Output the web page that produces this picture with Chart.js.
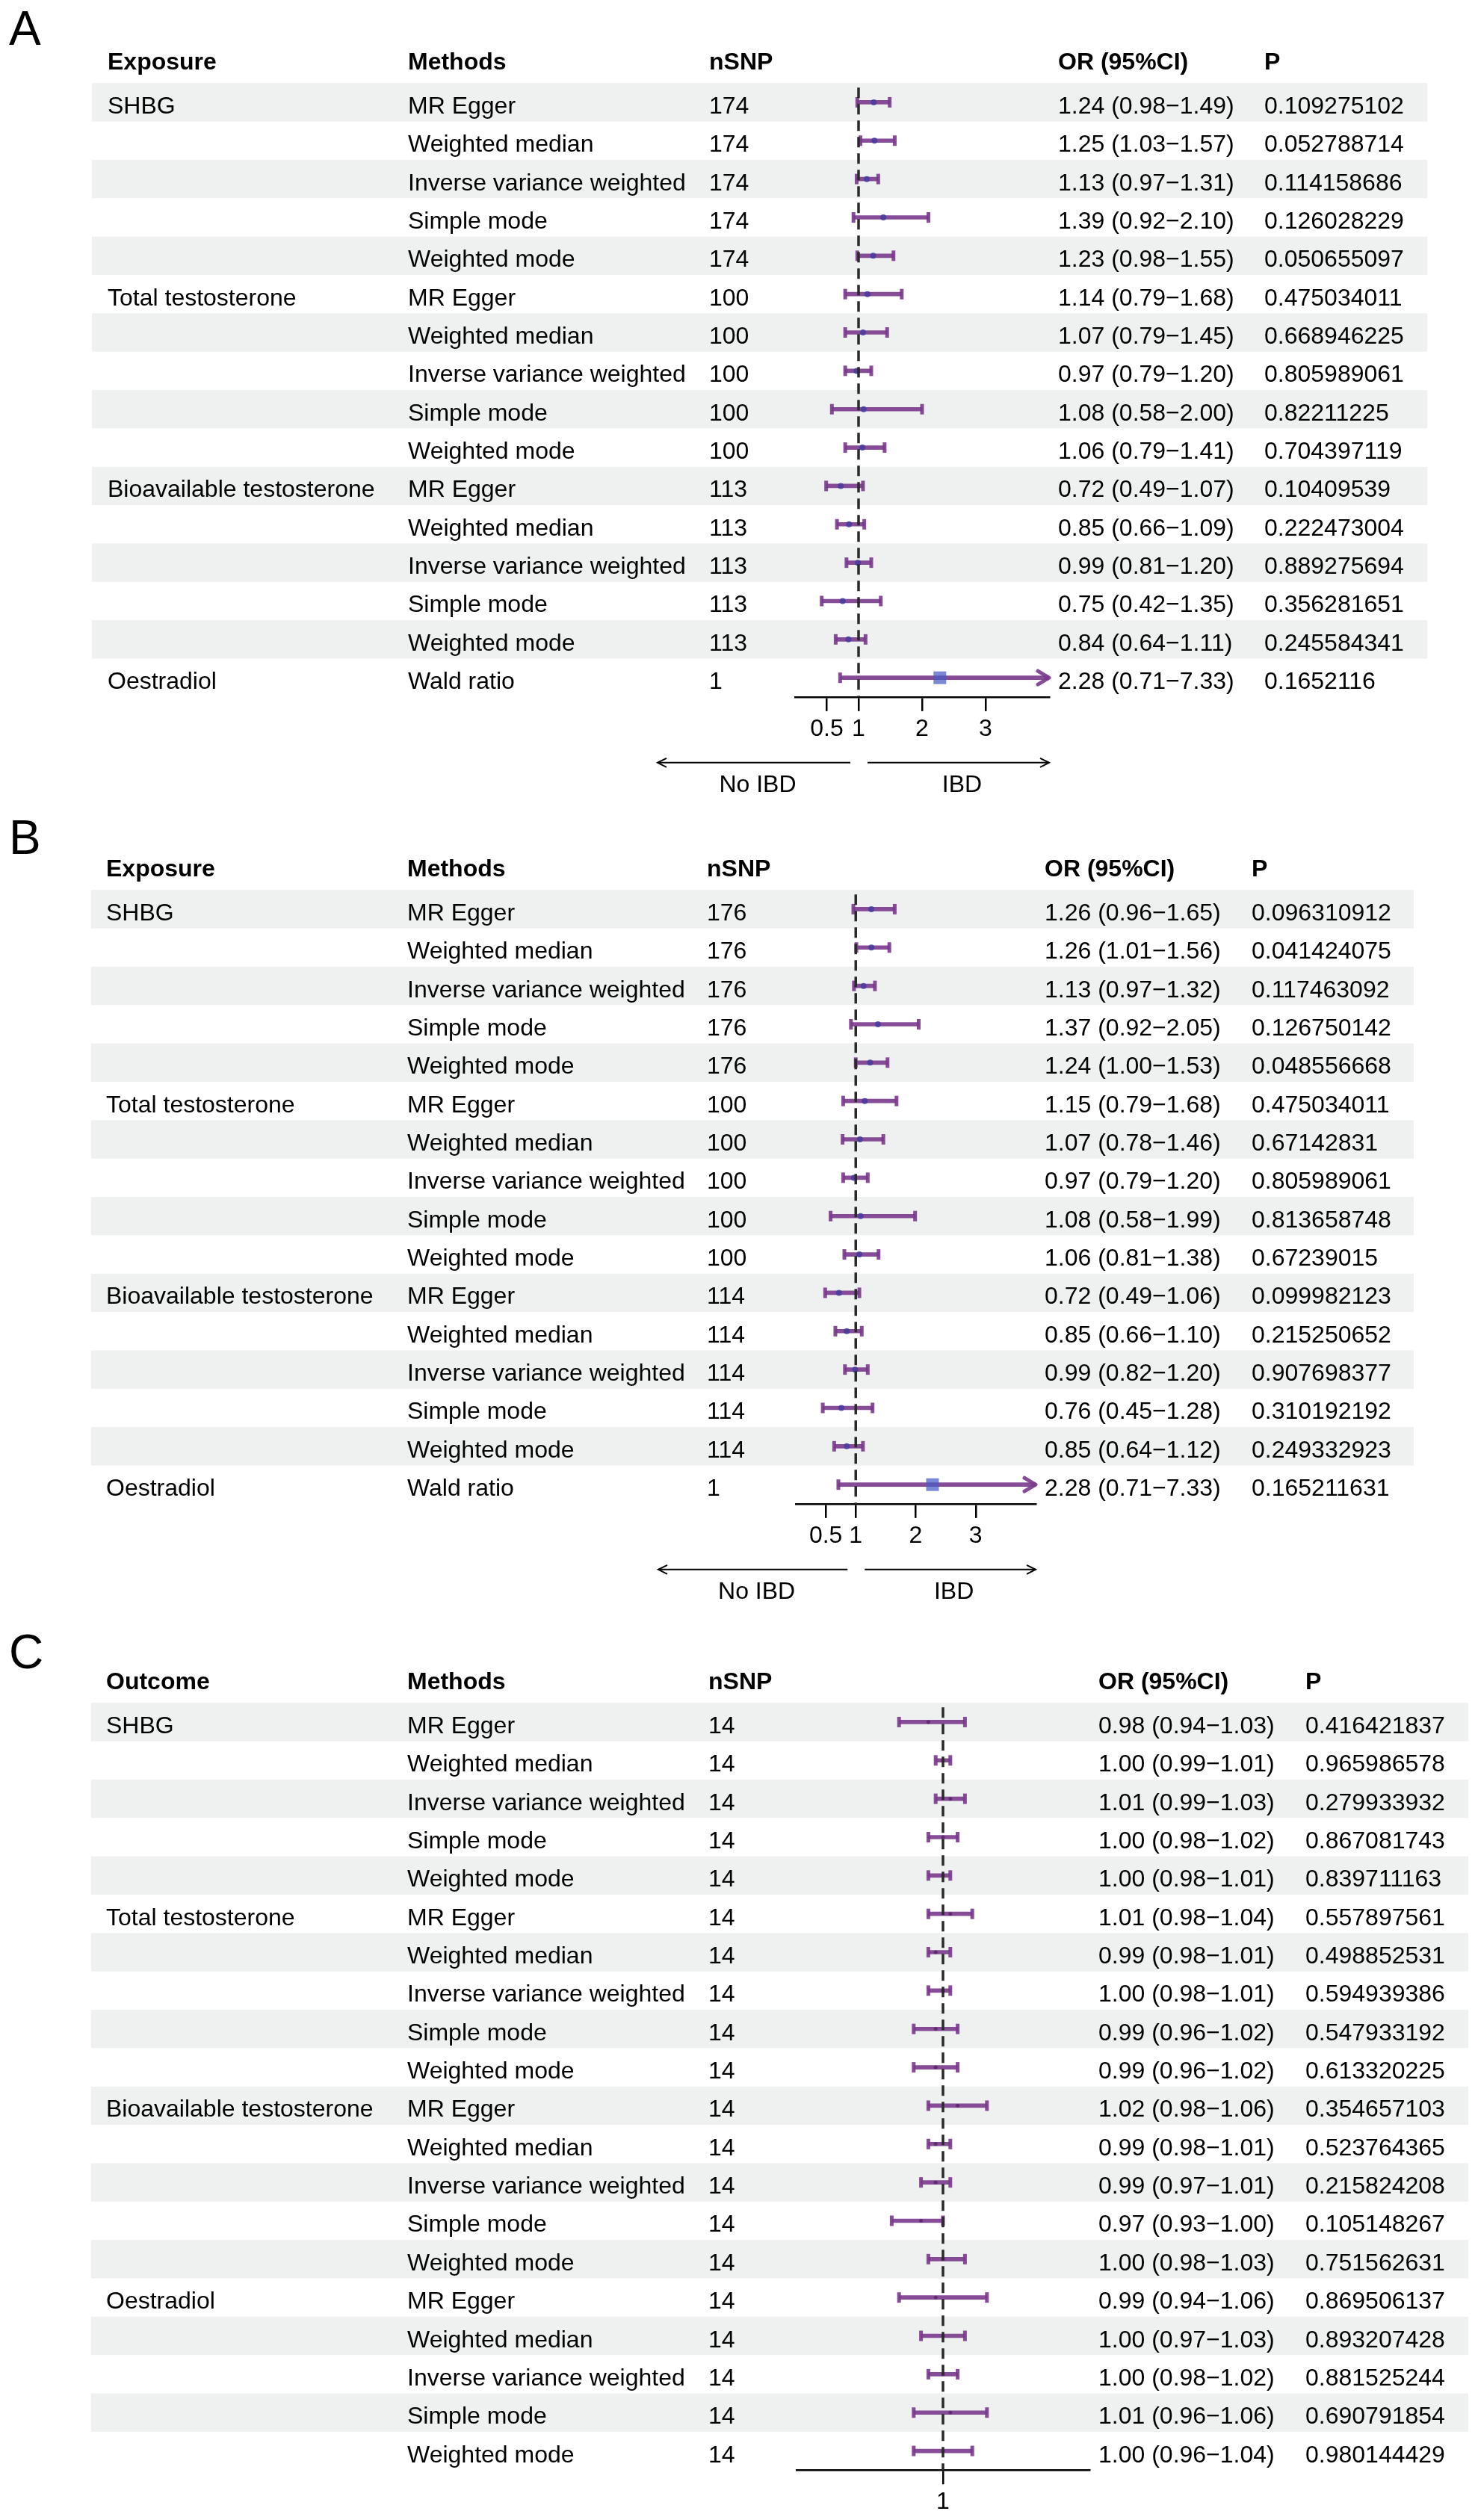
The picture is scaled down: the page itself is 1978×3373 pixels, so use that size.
<!DOCTYPE html>
<html lang="en">
<head>
<meta charset="UTF-8">
<title>MR forest plots</title>
<script src="https://cdn.jsdelivr.net/npm/chart.js"></script>
<style>
  html, body { margin: 0; padding: 0; background: #fff; }
  body { width: 1978px; height: 3373px; position: relative; overflow: hidden; }
  canvas { position: absolute; left: 0; }
</style>
</head>
<body>
<canvas id="chartA" width="1978" height="1068" style="top:0px"></canvas>
<canvas id="chartB" width="1978" height="1087" style="top:1068px"></canvas>
<canvas id="chartC" width="1978" height="1218" style="top:2155px"></canvas>
<script>
// ---- data ----
const exposures = ['SHBG', 'Total testosterone', 'Bioavailable testosterone', 'Oestradiol'];
const methods = ['MR Egger', 'Weighted median', 'Inverse variance weighted', 'Simple mode', 'Weighted mode'];
const singleSnpMethod = ['Wald ratio'];

// panel A
const nsnpA = [174, 174, 174, 174, 174, 100, 100, 100, 100, 100, 113, 113, 113, 113, 113, 1];
const orA = [1.24, 1.25, 1.13, 1.39, 1.23, 1.14, 1.07, 0.97, 1.08, 1.06, 0.72, 0.85, 0.99, 0.75, 0.84, 2.28];
const loA = [0.98, 1.03, 0.97, 0.92, 0.98, 0.79, 0.79, 0.79, 0.58, 0.79, 0.49, 0.66, 0.81, 0.42, 0.64, 0.71];
const hiA = [1.49, 1.57, 1.31, 2.10, 1.55, 1.68, 1.45, 1.20, 2.00, 1.41, 1.07, 1.09, 1.20, 1.35, 1.11, 7.33];
const pA = [0.109275102, 0.052788714, 0.114158686, 0.126028229, 0.050655097, 0.475034011, 0.668946225,
  0.805989061, 0.82211225, 0.704397119, 0.10409539, 0.222473004, 0.889275694, 0.356281651, 0.245584341, 0.1652116];

// panel B
const nsnpB = [176, 176, 176, 176, 176, 100, 100, 100, 100, 100, 114, 114, 114, 114, 114, 1];
const orB = [1.26, 1.26, 1.13, 1.37, 1.24, 1.15, 1.07, 0.97, 1.08, 1.06, 0.72, 0.85, 0.99, 0.76, 0.85, 2.28];
const loB = [0.96, 1.01, 0.97, 0.92, 1.00, 0.79, 0.78, 0.79, 0.58, 0.81, 0.49, 0.66, 0.82, 0.45, 0.64, 0.71];
const hiB = [1.65, 1.56, 1.32, 2.05, 1.53, 1.68, 1.46, 1.20, 1.99, 1.38, 1.06, 1.10, 1.20, 1.28, 1.12, 7.33];
const pB = [0.096310912, 0.041424075, 0.117463092, 0.126750142, 0.048556668, 0.475034011, 0.67142831,
  0.805989061, 0.813658748, 0.67239015, 0.099982123, 0.215250652, 0.907698377, 0.310192192, 0.249332923, 0.165211631];

// panel C
const nsnpC = [14, 14, 14, 14, 14, 14, 14, 14, 14, 14, 14, 14, 14, 14, 14, 14, 14, 14, 14, 14];
const orC = [0.98, 1.00, 1.01, 1.00, 1.00, 1.01, 0.99, 1.00, 0.99, 0.99, 1.02, 0.99, 0.99, 0.97, 1.00, 0.99, 1.00, 1.00, 1.01, 1.00];
const loC = [0.94, 0.99, 0.99, 0.98, 0.98, 0.98, 0.98, 0.98, 0.96, 0.96, 0.98, 0.98, 0.97, 0.93, 0.98, 0.94, 0.97, 0.98, 0.96, 0.96];
const hiC = [1.03, 1.01, 1.03, 1.02, 1.01, 1.04, 1.01, 1.01, 1.02, 1.02, 1.06, 1.01, 1.01, 1.00, 1.03, 1.06, 1.03, 1.02, 1.06, 1.04];
const pC = [0.416421837, 0.965986578, 0.279933932, 0.867081743, 0.839711163, 0.557897561, 0.498852531,
  0.594939386, 0.547933192, 0.613320225, 0.354657103, 0.523764365, 0.215824208, 0.105148267, 0.751562631,
  0.869506137, 0.893207428, 0.881525244, 0.690791854, 0.980144429];

const ticksAB = [0.5, 1, 2, 3];
const ticksC = [1];

// ---- helpers ----
const FONT = "'Liberation Sans', Arial, Helvetica, sans-serif";
const PURPLE = 'rgba(122,56,140,0.9)';
const BAND = '#eef1f0';

function buildRows(groupMethods) {
  const exp = [], meth = [];
  exposures.forEach((e, g) => {
    groupMethods[g].forEach((m, k) => {
      exp.push(k === 0 ? e : '');
      meth.push(m);
    });
  });
  return { exp, meth };
}

function chevron(ctx, x, y, dir, w, h) {
  ctx.beginPath();
  ctx.moveTo(x - dir * w, y - h);
  ctx.lineTo(x, y);
  ctx.lineTo(x - dir * w, y + h);
  ctx.stroke();
}

function makePlugin(cfg, rows) {
  return {
    id: 'forestTable',
    beforeDraw(chart) {
      const ctx = chart.ctx, ys = chart.scales.y;
      const rowH = ys.getPixelForValue(1) - ys.getPixelForValue(0);
      ctx.save();
      ctx.fillStyle = BAND;
      for (let i = 0; i < rows.meth.length; i += 2) {
        const y = ys.getPixelForValue(i);
        ctx.fillRect(cfg.bandL, y - rowH / 2, cfg.bandR - cfg.bandL, rowH);
      }
      ctx.restore();
    },
    afterDatasetsDraw(chart) {
      const ctx = chart.ctx, xs = chart.scales.x, ys = chart.scales.y, area = chart.chartArea;
      const x1 = xs.getPixelForValue(1);
      ctx.save();
      ctx.strokeStyle = '#2a2a2a';
      ctx.lineWidth = 3.5;
      ctx.setLineDash([14, 8]);
      ctx.beginPath();
      ctx.moveTo(x1, area.top + 6);
      ctx.lineTo(x1, area.bottom);
      ctx.stroke();
      ctx.setLineDash([]);
      // arrow heads for intervals running past the axis
      ctx.strokeStyle = PURPLE;
      ctx.lineWidth = 5;
      ctx.lineCap = 'round';
      ctx.lineJoin = 'round';
      cfg.hi.forEach((v, i) => {
        if (v > cfg.xMax) chevron(ctx, xs.getPixelForValue(cfg.xMax), ys.getPixelForValue(i), 1, 15, 9);
      });
      ctx.restore();
    },
    afterDraw(chart) {
      const ctx = chart.ctx, xs = chart.scales.x, ys = chart.scales.y, area = chart.chartArea;
      const y0 = ys.getPixelForValue(0);
      ctx.save();
      ctx.fillStyle = '#000';
      ctx.textBaseline = 'alphabetic';
      ctx.textAlign = 'left';
      // panel letter
      ctx.font = '64px ' + FONT;
      ctx.fillText(cfg.letter, 12, cfg.letterY);
      // header
      ctx.font = 'bold 32px ' + FONT;
      const hy = y0 - 44;
      ctx.fillText(cfg.firstHeader, cfg.cols[0], hy);
      ctx.fillText('Methods', cfg.cols[1], hy);
      ctx.fillText('nSNP', cfg.cols[2], hy);
      ctx.fillText('OR (95%CI)', cfg.cols[3], hy);
      ctx.fillText('P', cfg.cols[4], hy);
      // rows
      ctx.font = '32px ' + FONT;
      rows.meth.forEach((m, i) => {
        const y = ys.getPixelForValue(i) + 15;
        if (rows.exp[i]) ctx.fillText(rows.exp[i], cfg.cols[0], y);
        ctx.fillText(m, cfg.cols[1], y);
        ctx.fillText(String(cfg.nsnp[i]), cfg.cols[2], y);
        ctx.fillText(cfg.or[i].toFixed(2) + ' (' + cfg.lo[i].toFixed(2) + '\u2212' + cfg.hi[i].toFixed(2) + ')', cfg.cols[3], y);
        ctx.fillText(String(cfg.p[i]), cfg.cols[4], y);
      });
      // direction arrows
      if (cfg.arrows) {
        const x1 = xs.getPixelForValue(1);
        const ay = area.bottom + 88, ty = area.bottom + 127;
        const lStart = x1 - 11, lEnd = area.left - 184;
        const rStart = x1 + 12, rEnd = area.right;
        ctx.strokeStyle = '#000';
        ctx.lineWidth = 2;
        ctx.beginPath();
        ctx.moveTo(lStart, ay); ctx.lineTo(lEnd, ay);
        ctx.moveTo(rStart, ay); ctx.lineTo(rEnd, ay);
        ctx.stroke();
        chevron(ctx, lEnd, ay, -1, 12, 6);
        chevron(ctx, rEnd, ay, 1, 12, 6);
        ctx.textAlign = 'center';
        ctx.fillText('No IBD', (lStart + lEnd) / 2 + 5, ty);
        ctx.fillText('IBD', (rStart + rEnd) / 2 + 5, ty);
      }
      ctx.restore();
    }
  };
}

function forest(id, cfg) {
  const rows = buildRows(cfg.groups);
  const labels = rows.meth.map((m, i) => 'r' + i);
  const canvas = document.getElementById(id);
  const H = canvas.height, W = canvas.width;
  const AXIS_H = 60;
  const rowsBottom = cfg.rowTop + cfg.rowH * labels.length;

  const caps = [];
  cfg.lo.forEach((v, i) => caps.push({ x: v, y: labels[i] }));
  cfg.hi.forEach((v, i) => { if (v <= cfg.xMax) caps.push({ x: v, y: labels[i] }); });

  return new Chart(canvas, {
    type: 'bar',
    data: {
      labels: labels,
      datasets: [
        {
          type: 'bar',
          data: cfg.lo.map((v, i) => [v, cfg.hi[i]]),
          backgroundColor: PURPLE,
          borderWidth: 0,
          borderSkipped: false,
          barThickness: 5,
          clip: 0,
          order: 3
        },
        {
          type: 'scatter',
          data: caps,
          pointStyle: 'line',
          rotation: 90,
          radius: 7,
          borderWidth: 5,
          borderColor: PURPLE,
          backgroundColor: PURPLE,
          clip: false,
          order: 2
        },
        {
          type: 'scatter',
          data: cfg.or.map((v, i) => ({ x: v, y: labels[i] })),
          pointStyle: ctx => rows.meth[ctx.dataIndex] === 'Wald ratio' ? 'rect' : 'circle',
          radius: ctx => rows.meth[ctx.dataIndex] === 'Wald ratio' ? 12 : cfg.pointR,
          backgroundColor: ctx => rows.meth[ctx.dataIndex] === 'Wald ratio' ? 'rgba(72,92,196,0.72)' : cfg.pointColor,
          borderWidth: 0,
          clip: false,
          order: 1
        }
      ]
    },
    options: {
      indexAxis: 'y',
      responsive: false,
      animation: false,
      devicePixelRatio: 1,
      layout: {
        padding: {
          left: cfg.xLeft,
          right: W - cfg.xRight,
          top: cfg.rowTop,
          bottom: H - rowsBottom - AXIS_H
        }
      },
      plugins: { legend: { display: false }, tooltip: { enabled: false } },
      scales: {
        x: {
          type: 'linear',
          min: cfg.xMin,
          max: cfg.xMax,
          afterBuildTicks: s => { s.ticks = cfg.ticks.map(v => ({ value: v })); },
          afterFit: s => { s.height = AXIS_H; },
          border: { display: true, color: '#000', width: 2.5 },
          grid: { drawOnChartArea: false, drawTicks: true, tickLength: 19, tickWidth: 2.5, tickColor: '#000', color: '#000', lineWidth: 2.5 },
          ticks: { autoSkip: false, maxRotation: 0, padding: 5, color: '#000', font: { family: FONT, size: 32 }, callback: v => String(v) }
        },
        y: { type: 'category', display: false, offset: true, grid: { display: false } }
      }
    },
    plugins: [makePlugin(cfg, rows)]
  });
}

const groupsAB = [methods, methods, methods, singleSnpMethod];
const groupsC = [methods, methods, methods, methods];

forest('chartA', {
  groups: groupsAB, nsnp: nsnpA, or: orA, lo: loA, hi: hiA, p: pA, ticks: ticksAB,
  xMin: 0, xMax: 4, xLeft: 1064, xRight: 1404, rowTop: 111.25, rowH: 51.35,
  bandL: 123, bandR: 1910, cols: [144, 546, 949, 1416, 1692],
  letter: 'A', letterY: 60, firstHeader: 'Exposure', arrows: true,
  pointR: 4, pointColor: 'rgba(70,60,160,0.85)'
});

forest('chartB', {
  groups: groupsAB, nsnp: nsnpB, or: orB, lo: loB, hi: hiB, p: pB, ticks: ticksAB,
  xMin: 0, xMax: 4, xLeft: 1065, xRight: 1386, rowTop: 123.25, rowH: 51.35,
  bandL: 122, bandR: 1892, cols: [142, 545, 946, 1398, 1675],
  letter: 'B', letterY: 75, firstHeader: 'Exposure', arrows: true,
  pointR: 4, pointColor: 'rgba(70,60,160,0.85)'
});

forest('chartC', {
  groups: groupsC, nsnp: nsnpC, or: orC, lo: loC, hi: hiC, p: pC, ticks: ticksC,
  xMin: 0.8, xMax: 1.2, xLeft: 1066, xRight: 1458, rowTop: 124.25, rowH: 51.35,
  bandL: 122, bandR: 1965, cols: [142, 545, 948, 1470, 1747],
  letter: 'C', letterY: 78, firstHeader: 'Outcome', arrows: false,
  pointR: 2.5, pointColor: 'rgba(90,40,105,0.9)'
});
</script>
</body>
</html>
